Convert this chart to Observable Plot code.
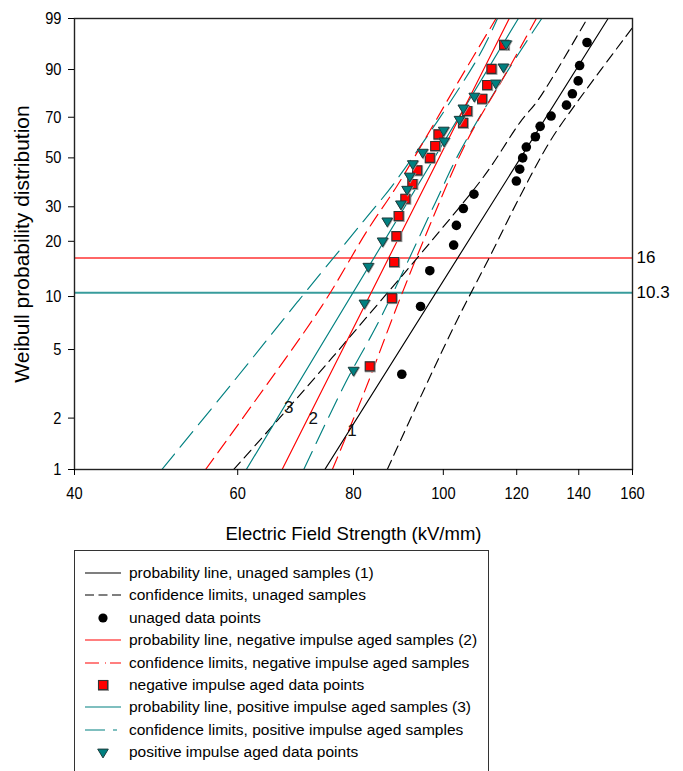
<!DOCTYPE html>
<html>
<head>
<meta charset="utf-8">
<script src="https://cdn.jsdelivr.net/npm/d3@7"></script>
<script src="https://cdn.jsdelivr.net/npm/@observablehq/plot@0.6"></script>
<style>
  html, body { margin: 0; padding: 0; background: #fff; }
  body { font-family: "Liberation Sans", Arial, Helvetica, sans-serif; color: #000; }
  #wrap { position: relative; width: 683px; height: 771px; overflow: hidden; }
  #chart svg { display: block; }
  #legend { position: absolute; left: 74px; top: 550px; width: 415px; height: 260px;
            border: 1px solid #333; box-sizing: border-box; }
  .row { position: absolute; left: 0; height: 22px; width: 410px; }
  .row svg { position: absolute; left: 10px; top: 0; }
  .row span { position: absolute; left: 54px; top: 0; line-height: 22px; font-size: 15.5px; white-space: nowrap; }
</style>
</head>
<body>
<div id="wrap">
  <div id="chart"></div>
  <div id="legend"></div>
</div>
<script>
// ---------- data (breakdown field in kV/mm, cumulative probability in %) ----------
const xTicks = [40, 60, 80, 100, 120, 140, 160];
const yTicks = [1, 2, 5, 10, 20, 30, 50, 70, 90, 99];

// unaged samples (1)
const unagedE = [90.2, 94.5, 96.7, 102.6, 103.3, 105.1, 107.9, 119.9, 120.9, 121.8, 122.9, 125.7, 127.2, 130.7, 135.8, 137.8, 139.8, 140.3, 142.9];
const unagedP = [3.6, 8.8, 13.9, 19.1, 24.2, 29.4, 34.5, 39.7, 44.8, 50.0, 55.2, 60.3, 65.5, 70.6, 75.8, 80.9, 86.1, 91.2, 96.4];
const unagedLineE = [74.5, 150.6];
const unagedLineP = [1, 99];
const unagedLoE = [59.4, 68.1, 75.9, 82.4, 97.2, 111.0, 121.0, 126.8, 143.0];
const unagedLoP = [1, 2.3, 4.5, 7.5, 20.2, 42.5, 67.5, 78.7, 99];
const unagedHiE = [87.0, 95.5, 103.8, 112.4, 120.6, 130.5, 139.6, 160.0];
const unagedHiP = [1, 3.0, 7.6, 16.8, 32.8, 58.4, 77.5, 98.3];

// negative impulse aged samples (2)
const negE = [83.3, 88.0, 88.5, 89.0, 89.5, 91.0, 92.6, 93.7, 96.7, 98.0, 98.8, 105.0, 106.1, 110.1, 111.5, 112.7, 116.3];
const negP = [4.0, 9.8, 15.5, 21.3, 27.0, 32.8, 38.5, 44.3, 50.0, 55.7, 61.5, 67.2, 73.0, 78.7, 84.5, 90.2, 96.0];
const negLineE = [67.0, 117.8];
const negLineP = [1, 99];
const negLoE = [55.4, 61.9, 74.0, 82.9, 89.2, 95.8, 103.5, 114.0];
const negLoP = [1, 2.3, 8.9, 23.0, 37.9, 60, 85, 99];
const negHiE = [75.9, 82.1, 89.2, 95.2, 106.1, 116.5, 122.6, 126.0];
const negHiP = [1, 2.8, 8.9, 20.2, 58.4, 88, 97.0, 99];

// positive impulse aged samples (3)
const posE = [80.0, 82.2, 83.0, 86.0, 87.0, 90.0, 91.4, 92.0, 92.7, 95.0, 100.2, 100.1, 104.1, 105.1, 108.0, 113.9, 116.1, 116.9];
const posP = [3.8, 9.2, 14.7, 20.1, 25.5, 31.0, 36.4, 41.8, 47.3, 52.7, 58.2, 63.6, 69.0, 74.5, 79.9, 85.3, 90.8, 96.2];
const posLineE = [61.3, 120.5];
const posLineP = [1, 99];
const posLoE = [49.7, 59.2, 69.8, 82.1, 89.2, 108.8, 114.4];
const posLoP = [1, 3.2, 9.5, 25.6, 40.6, 93.0, 99];
const posHiE = [70.7, 78.4, 85.5, 98.1, 103.9, 116.2, 127.7];
const posHiP = [1, 3.2, 7.5, 31.6, 51.9, 87.5, 99];

// reference levels drawn across the plot
const refP = [16.3, 10.5];
const refLabels = ["16", "10.3"];
const refColors = ["#ff0000", "#008080"];
const refOpacity = [0.6, 0.78];

// curve number labels
const numLabelE = [79.7, 72.4, 68.1];
const numLabelP = [1.7, 2.0, 2.3];
const numLabels = ["1", "2", "3"];

const legendItems = [
  ["probability line, unaged samples (1)", "line", "#000", null],
  ["confidence limits, unaged samples", "line", "#000", "9,4.5"],
  ["unaged data points", "circle", "#000", null],
  ["probability line, negative impulse aged samples (2)", "line", "#ff0000", null],
  ["confidence limits, negative impulse aged samples", "line", "#ff0000", "14,6,1,4"],
  ["negative impulse aged data points", "square", "#ff0000", null],
  ["probability line, positive impulse aged samples (3)", "line", "#008080", null],
  ["confidence limits, positive impulse aged samples", "line", "#008080", "20,8,4,8"],
  ["positive impulse aged data points", "triangle", "#008080", null]
];

// ---------- helpers ----------
const W = p => Math.log(-Math.log(1 - p / 100));   // Weibull probability transform
const pts = (E, P) => E.map((e, i) => ({e, w: W(P[i])}));
const yTickLabel = new Map(yTicks.map(t => [W(t), String(t)]));

const BLACK = "#000", RED = "#ff0000", TEAL = "#008080";
const DASH_K = "10,6", DASH_R = "14,7", DASH_T = "20,9";

const triShape = (w, h) => ({draw(ctx) {
  ctx.moveTo(-w / 2, -h / 3); ctx.lineTo(w / 2, -h / 3); ctx.lineTo(0, 2 * h / 3); ctx.closePath(); }});
const sqShape = s => ({draw(ctx) { ctx.rect(-s / 2, -s / 2, s, s); }});

const lineOpts = (stroke, dash) => ({x: "e", y: "w", stroke, strokeWidth: 1.15,
  strokeDasharray: dash || undefined, curve: dash ? "catmull-rom" : "linear", clip: true});

const chart = Plot.plot({
  width: 683, height: 548,
  marginLeft: 74, marginRight: 51, marginTop: 18, marginBottom: 79,
  style: {fontFamily: '"Liberation Sans", Arial, sans-serif', color: "#000", background: "#fff"},
  x: {type: "log", domain: [40, 160]},
  y: {type: "linear", domain: [W(1), W(99)]},
  marks: [
    Plot.ruleY(refP, {y: d => W(d), stroke: (d, i) => refColors[i], strokeOpacity: (d, i) => refOpacity[i], strokeWidth: 1.9}),
    // confidence limits
    Plot.line(pts(posLoE, posLoP), lineOpts(TEAL, DASH_T)),
    Plot.line(pts(posHiE, posHiP), lineOpts(TEAL, DASH_T)),
    Plot.line(pts(negLoE, negLoP), lineOpts(RED, DASH_R)),
    Plot.line(pts(negHiE, negHiP), lineOpts(RED, DASH_R)),
    Plot.line(pts(unagedLoE, unagedLoP), lineOpts(BLACK, DASH_K)),
    Plot.line(pts(unagedHiE, unagedHiP), lineOpts(BLACK, DASH_K)),
    // probability lines
    Plot.line(pts(posLineE, posLineP), lineOpts(TEAL)),
    Plot.line(pts(negLineE, negLineP), lineOpts(RED)),
    Plot.line(pts(unagedLineE, unagedLineP), lineOpts(BLACK)),
    // data points
    Plot.dot(pts(unagedE, unagedP), {x: "e", y: "w", r: 4.8, fill: BLACK, stroke: "none"}),
    Plot.dot(pts(negE, negP), {x: "e", y: "w", symbol: sqShape(11), r: 5, fill: "#9a9a9a", stroke: "none", dx: 0.5, dy: 0.5}),
    Plot.dot(pts(negE, negP), {x: "e", y: "w", symbol: sqShape(9), r: 5, fill: RED, stroke: "#333", strokeWidth: 1.1}),
    Plot.dot(pts(posE, posP), {x: "e", y: "w", symbol: triShape(12.6, 10.4), r: 5, fill: "#9a9a9a", stroke: "none", dx: 0.5, dy: 0.5}),
    Plot.dot(pts(posE, posP), {x: "e", y: "w", symbol: triShape(10.6, 8.8), r: 5, fill: TEAL, stroke: "#1c3c3c", strokeWidth: 1}),
    // labels
    Plot.text(numLabels, {x: (d, i) => numLabelE[i], y: (d, i) => W(numLabelP[i]), text: d => d, fontSize: 17, fill: "#111"}),
    Plot.text(refLabels, {x: () => 160, y: (d, i) => W(refP[i]), text: d => d, textAnchor: "start", dx: 4, fontSize: 17}),
    Plot.frame({stroke: "#222", strokeWidth: 1.4}),
    Plot.axisX({ticks: xTicks, tickFormat: d => String(d), tickSize: 6, tickPadding: 11, fontSize: 17, label: null}),
    Plot.axisY({ticks: yTicks.map(W), tickFormat: d => yTickLabel.get(d), tickSize: 6, tickPadding: 7, fontSize: 17, label: null}),
    Plot.text(["Electric Field Strength (kV/mm)"], {frameAnchor: "bottom", dy: 70, text: d => d, fontSize: 18.5}),
    Plot.text(["Weibull probability distribution"], {frameAnchor: "left", dx: -52, rotate: -90, textAnchor: "middle", text: d => d, fontSize: 21})
  ]
});
document.getElementById("chart").appendChild(chart);

// slightly condensed tick numerals as in the original
chart.querySelectorAll('g[aria-label="x-axis tick label"] text, g[aria-label="y-axis tick label"] text').forEach(t => {
  const L = t.getComputedTextLength();
  if (L > 0) { t.setAttribute("textLength", (L * 0.86).toFixed(2)); t.setAttribute("lengthAdjust", "spacingAndGlyphs"); }
});

// ---------- legend ----------
const legend = document.getElementById("legend");
legendItems.forEach(([label, type, color, dash], i) => {
  const row = document.createElement("div");
  row.className = "row";
  row.style.top = (11 + i * 22.4) + "px";
  let g = "";
  if (type === "line") g = `<line x1="0" x2="36" y1="11" y2="11" stroke="${color}" stroke-width="1.2" ${dash ? `stroke-dasharray="${dash}"` : ""}/>`;
  if (type === "circle") g = `<circle cx="18" cy="11" r="4.6" fill="${color}"/>`;
  if (type === "square") g = `<rect x="13" y="6" width="11" height="11" fill="#9a9a9a"/><rect x="13.5" y="6.5" width="9" height="9" fill="${color}" stroke="#333" stroke-width="1.1"/>`;
  if (type === "triangle") g = `<path d="M12.7,8.1L23.3,8.1L18,16.9Z" fill="${color}" stroke="#1c3c3c" stroke-width="1"/>`;
  row.innerHTML = `<svg width="36" height="22">${g}</svg><span>${label}</span>`;
  legend.appendChild(row);
});
</script>
</body>
</html>
